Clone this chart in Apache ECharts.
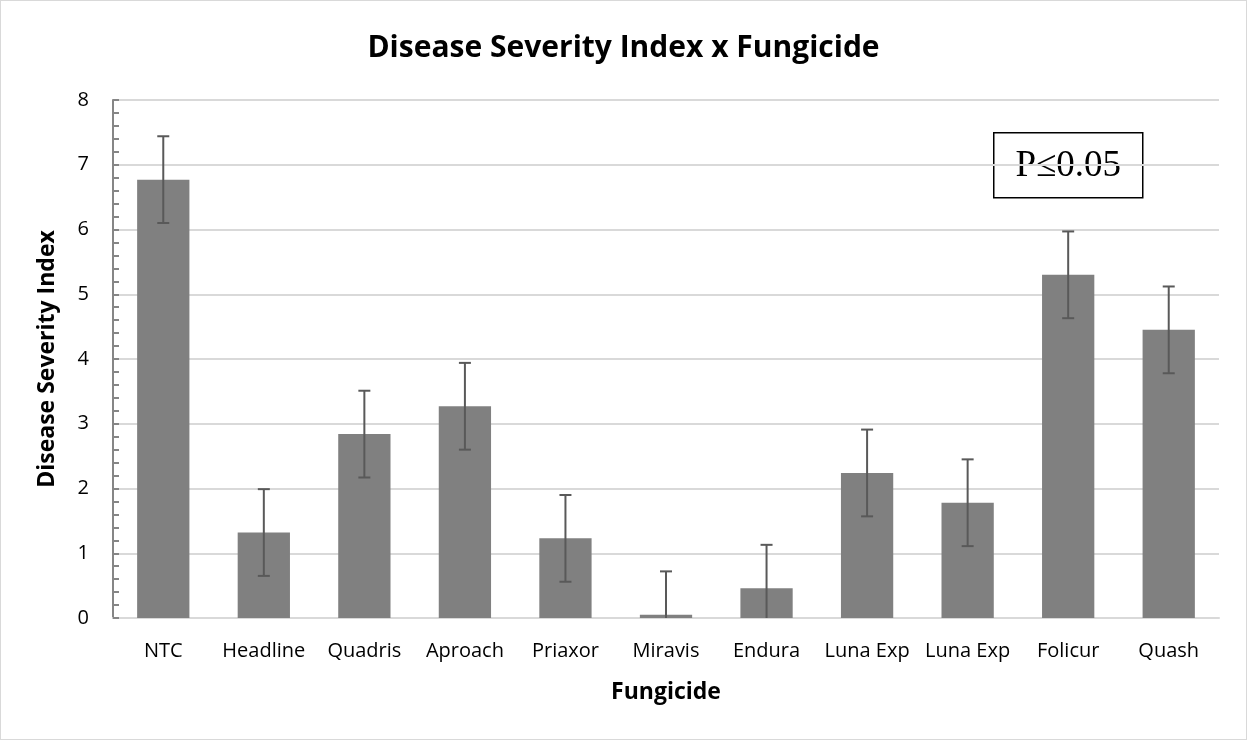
<!DOCTYPE html>
<html>
<head>
<meta charset="utf-8">
<script src="https://cdn.jsdelivr.net/npm/echarts@6/dist/echarts.min.js"></script>
<style>
  html, body { margin: 0; padding: 0; background: #fff; }
  #chart { width: 1247px; height: 740px; box-sizing: border-box; border: 1px solid #d9d9d9; }
</style>
</head>
<body>
<div id="chart"></div>
<script>
// fungicide treatments
var categories = ['NTC', 'Headline', 'Quadris', 'Aproach', 'Priaxor', 'Miravis', 'Endura', 'Luna Exp', 'Luna Exp', 'Folicur', 'Quash'];
// mean disease severity index
var severity = [6.77, 1.32, 2.84, 3.27, 1.23, 0.05, 0.46, 2.24, 1.78, 5.30, 4.45];
// error bar half-length
var errors = [0.67, 0.67, 0.67, 0.67, 0.67, 0.67, 0.67, 0.67, 0.67, 0.67, 0.67];
var yTicks = [0, 1, 2, 3, 4, 5, 6, 7, 8];

var font = '"Open Sans", "Noto Sans", sans-serif';
var chart = echarts.init(document.getElementById('chart'));

var errData = severity.map(function (v, i) {
    return [i, Math.max(0, v - errors[i]), v + errors[i]];
});

chart.setOption({
    animation: false,
    title: {
        text: 'Disease Severity Index x Fungicide',
        left: 'center',
        top: 27,
        textStyle: { fontFamily: font, fontSize: 30, fontWeight: 'bold', color: '#000' }
    },
    grid: { left: 112, right: 27, top: 99, bottom: 121 },
    xAxis: {
        type: 'category',
        data: categories,
        name: 'Fungicide',
        nameLocation: 'middle',
        nameGap: 63,
        nameTextStyle: { fontFamily: font, fontSize: 23, fontWeight: 'bold', color: '#000' },
        axisLine: { lineStyle: { color: '#d9d9d9', width: 2 } },
        axisTick: { show: false },
        axisLabel: { fontFamily: font, fontSize: 20, color: '#000', margin: 23, interval: 0 }
    },
    yAxis: [{
        type: 'value',
        min: yTicks[0],
        max: yTicks[yTicks.length - 1],
        interval: 1,
        name: 'Disease Severity Index',
        nameLocation: 'middle',
        nameGap: 54,
        nameTextStyle: { fontFamily: font, fontSize: 23, fontWeight: 'bold', color: '#000' },
        axisLine: { show: true, lineStyle: { color: '#868686', width: 2 } },
        axisTick: { show: false },
        axisLabel: { fontFamily: font, fontSize: 20, color: '#000', margin: 24 },
        splitLine: { lineStyle: { color: '#d9d9d9', width: 2 } }
    }, {
        // minor ticks drawn inside the axis
        type: 'value',
        position: 'left',
        min: yTicks[0],
        max: yTicks[yTicks.length - 1],
        interval: 0.2,
        axisLine: { show: false },
        axisTick: { show: true, inside: true, length: 6, lineStyle: { color: '#868686', width: 2 } },
        axisLabel: { show: false },
        splitLine: { show: false }
    }],
    series: [{
        type: 'bar',
        data: severity,
        barWidth: '52%',
        itemStyle: { color: '#808080' }
    }, {
        type: 'custom',
        data: errData,
        z: 5,
        renderItem: function (params, api) {
            var x = api.value(0);
            var lo = api.coord([x, api.value(1)]);
            var hi = api.coord([x, api.value(2)]);
            var cap = 6;
            var style = { stroke: '#595959', lineWidth: 2 };
            var kids = [
                { type: 'line', shape: { x1: hi[0], y1: hi[1], x2: lo[0], y2: lo[1] }, style: style },
                { type: 'line', shape: { x1: hi[0] - cap, y1: hi[1], x2: hi[0] + cap, y2: hi[1] }, style: style }
            ];
            if (api.value(1) > 0) {
                kids.push({ type: 'line', shape: { x1: lo[0] - cap, y1: lo[1], x2: lo[0] + cap, y2: lo[1] }, style: style });
            }
            return { type: 'group', children: kids };
        }
    }],
    graphic: [{
        type: 'group',
        left: 992,
        top: 131,
        children: [{
            type: 'rect',
            shape: { x: 0, y: 0, width: 149, height: 65 },
            style: { fill: '#fff', stroke: '#000', lineWidth: 1.5 }
        }, {
            type: 'text',
            x: 74.5,
            y: 34,
            style: {
                text: 'P≤0.05',
                font: '37px "Liberation Serif", "DejaVu Serif", serif',
                fill: '#000',
                align: 'center',
                verticalAlign: 'middle'
            }
        }]
    }]
});
</script>
</body>
</html>
